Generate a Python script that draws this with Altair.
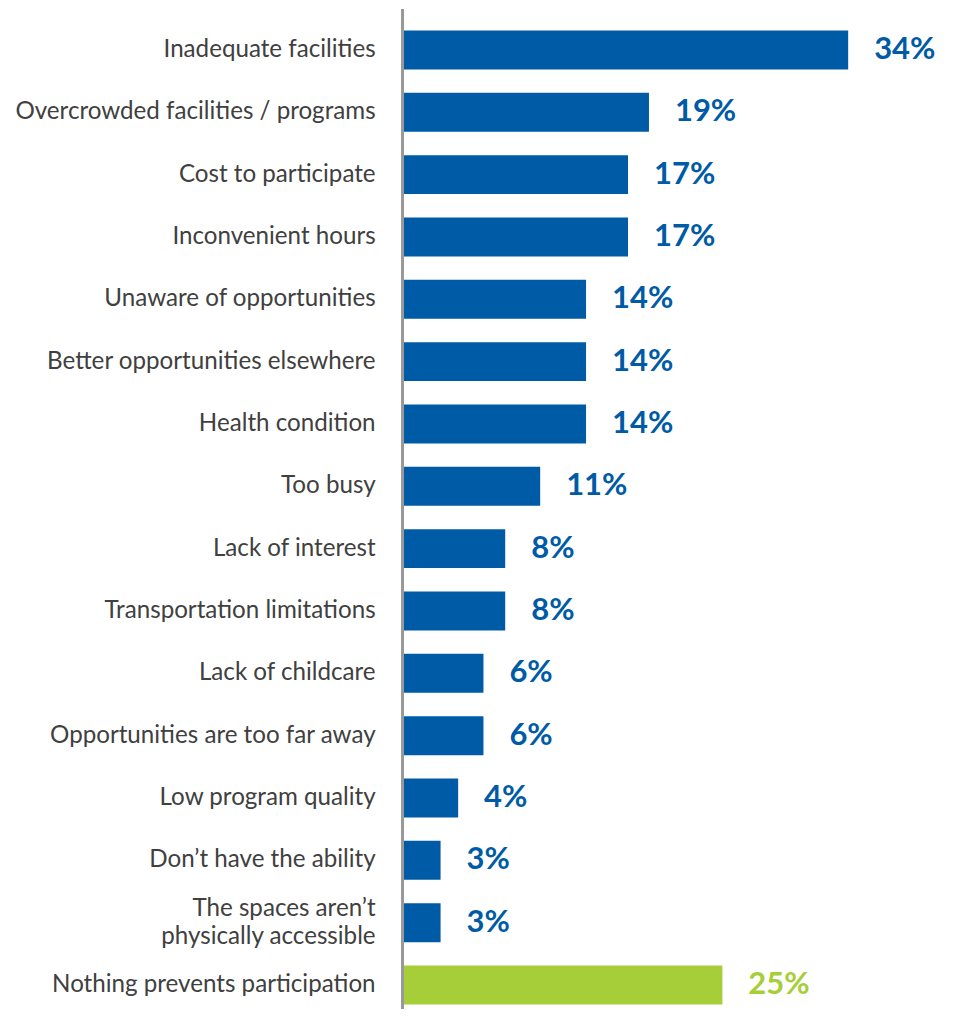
import altair as alt
import pandas as pd

categories = [
    "Inadequate facilities",
    "Overcrowded facilities / programs",
    "Cost to participate",
    "Inconvenient hours",
    "Unaware of opportunities",
    "Better opportunities elsewhere",
    "Health condition",
    "Too busy",
    "Lack of interest",
    "Transportation limitations",
    "Lack of childcare",
    "Opportunities are too far away",
    "Low program quality",
    "Don\u2019t have the ability",
    "The spaces aren\u2019t physically accessible",
    "Nothing prevents participation",
]
two_line_label = ["The spaces aren\u2019t", "physically accessible"]
values = [34.0, 18.8, 17.2, 17.2, 14.0, 14.0, 14.0, 10.5, 7.83, 7.83, 6.17, 6.17, 4.24, 2.9, 2.9, 24.4]
labels = ["34%", "19%", "17%", "17%", "14%", "14%", "14%", "11%", "8%", "8%", "6%", "6%", "4%", "3%", "3%", "25%"]
groups = ["barrier"] * 15 + ["none"]

df = pd.DataFrame({"category": categories, "value": values, "label": labels, "group": groups})
df["multi"] = df["category"] == categories[14]

W = 540
H = 996

color = alt.Color(
    "group:N",
    scale=alt.Scale(domain=["barrier", "none"], range=["#005BA6", "#A6CE39"]),
    legend=None,
)

y = alt.Y(
    "category:N",
    sort=categories,
    title=None,
    scale=alt.Scale(paddingInner=0.375, paddingOuter=0.168, align=1),
    axis=None,
)

x = alt.X("value:Q", scale=alt.Scale(domain=[0, W / 13.12], nice=False), axis=None)

base = alt.Chart(df)

bars = base.mark_bar().encode(y=y, x=x, color=color)

text = base.mark_text(
    align="left", baseline="middle", dx=26, font="Lato", fontSize=31, fontWeight="bold"
).encode(y=y, x=x, text="label:N", color=color)

cat_style = dict(align="right", baseline="middle", font="Lato", fontSize=24.2, color="#404040")

cat_single = (
    base.transform_filter("!datum.multi")
    .mark_text(**cat_style)
    .encode(y=y, x=alt.value(-27), text="category:N")
)

cat_multi = (
    base.transform_filter("datum.multi")
    .mark_text(**cat_style, text=two_line_label, lineHeight=28, dy=-14)
    .encode(y=y, x=alt.value(-27))
)

rule = base.mark_rule(color="#999999", strokeWidth=2).encode(
    x=alt.value(0), y=alt.value(0), y2=alt.value(H + 4)
)

chart = (
    alt.layer(bars, text, cat_single, cat_multi, rule)
    .properties(
        width=W,
        height=H,
        background="white",
        padding={"left": 7, "top": 0, "right": 5, "bottom": 0},
    )
    .configure_view(stroke="transparent", strokeWidth=0)
)

chart.save("out.html", embed_options={"renderer": "svg", "actions": False})
